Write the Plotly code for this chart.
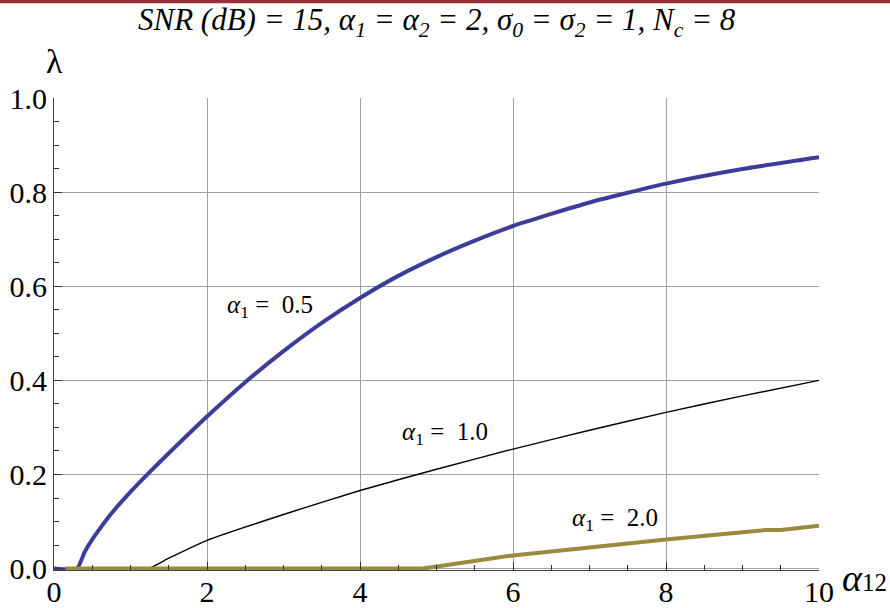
import plotly.graph_objects as go

# λ versus α12 for three values of α1
x_a05 = [0.0, 0.30, 0.40, 0.50, 0.60, 0.75, 1.0, 1.25, 1.5, 2.0, 2.5, 3.0, 3.5, 4.0, 4.5,
         5.0, 5.5, 6.0, 7.0, 8.0, 9.0, 10.0]
y_a05 = [0.0, 0.0, 0.035, 0.062, 0.085, 0.117, 0.163, 0.205, 0.245, 0.323, 0.396, 0.462, 0.522, 0.575, 0.622,
         0.662, 0.697, 0.728, 0.778, 0.818, 0.849, 0.874]

x_a10 = [0.0, 1.23, 1.5, 2.0, 3.0, 4.0, 5.0, 6.0, 7.0, 8.0, 9.0, 10.0]
y_a10 = [0.0, 0.0, 0.022, 0.060, 0.115, 0.166, 0.211, 0.254, 0.294, 0.332, 0.367, 0.400]

x_a20 = [0.15, 4.82, 6.0, 7.0, 8.0, 9.0, 9.3, 9.5, 10.0]
y_a20 = [0.0, 0.0, 0.028, 0.046, 0.062, 0.077, 0.082, 0.082, 0.091]

labels = ["<i>α</i><sub>1</sub> =  0.5", "<i>α</i><sub>1</sub> =  1.0", "<i>α</i><sub>1</sub> =  2.0"]
label_pos = [(2.82, 0.556), (5.11, 0.288), (7.33, 0.104)]

x_ticks = [0, 2, 4, 6, 8, 10]
y_ticks = [0.0, 0.2, 0.4, 0.6, 0.8, 1.0]

SERIF = "Liberation Serif, Times New Roman, serif"
BLUE = "#3d3d99"
OLIVE = "#998a3d"

fig = go.Figure()
fig.add_trace(go.Scatter(x=x_a10, y=y_a10, mode="lines", line_shape="spline",
                         line=dict(color="black", width=1.4, smoothing=0.5), showlegend=False))
fig.add_trace(go.Scatter(x=x_a05, y=y_a05, mode="lines", line_shape="spline",
                         line=dict(color=BLUE, width=4, smoothing=0.5), showlegend=False))
fig.add_trace(go.Scatter(x=x_a20, y=y_a20, mode="lines",
                         line=dict(color=OLIVE, width=4), showlegend=False))

for txt, (lx, ly) in zip(labels, label_pos):
    fig.add_annotation(x=lx, y=ly, text=txt, showarrow=False,
                       font=dict(family=SERIF, size=25, color="black"))

# title and axis symbols
fig.add_annotation(xref="paper", yref="paper", x=0.5, y=1.162, xanchor="center", yanchor="middle",
                   text="<i>SNR (dB) = 15, α<sub>1</sub> = α<sub>2</sub> = 2, σ<sub>0</sub> = σ<sub>2</sub> = 1, N<sub>c</sub> = 8</i>",
                   showarrow=False, font=dict(family=SERIF, size=31, color="black"))
fig.add_annotation(xref="paper", yref="paper", x=0.001, y=1.078, xanchor="center", yanchor="middle",
                   text="λ", showarrow=False, font=dict(family=SERIF, size=34, color="black"))
fig.add_annotation(xref="paper", yref="paper", x=1.059, y=-0.017, xanchor="center", yanchor="middle",
                   text="<i>α</i><span style='font-size:25px'>12</span>", showarrow=False,
                   font=dict(family=SERIF, size=38, color="black"))

# thin band across the top edge
fig.add_shape(type="rect", xref="paper", yref="paper", x0=-0.08, x1=1.1, y0=1.2008, y1=1.215,
              fillcolor="#97303a", line=dict(width=0), layer="above")

axis_common = dict(
    automargin=False,
    showline=True, linecolor="#444444", linewidth=1,
    showgrid=True, gridcolor="#a0a0a0", gridwidth=1,
    zeroline=False,
    ticks="inside", ticklen=8, tickwidth=1, tickcolor="#333333",
    tickfont=dict(family=SERIF, size=30, color="black"),
)

fig.update_xaxes(range=[0, 10], tickvals=x_ticks, ticktext=[str(v) for v in x_ticks],
                 ticklabelstandoff=-5,
                 minor=dict(dtick=0.5, ticks="inside", ticklen=5, tickcolor="#333333", showgrid=False),
                 **axis_common)
fig.update_yaxes(range=[-0.003, 1.0], tickvals=y_ticks, ticktext=[f"{v:.1f}" for v in y_ticks],
                 minor=dict(dtick=0.05, ticks="inside", ticklen=5, tickcolor="#333333", showgrid=False),
                 **axis_common)

fig.update_layout(
    width=890, height=608,
    margin=dict(l=54, r=71, t=98, b=38, autoexpand=False),
    paper_bgcolor="white", plot_bgcolor="white",
)

fig.write_html("out.html")
